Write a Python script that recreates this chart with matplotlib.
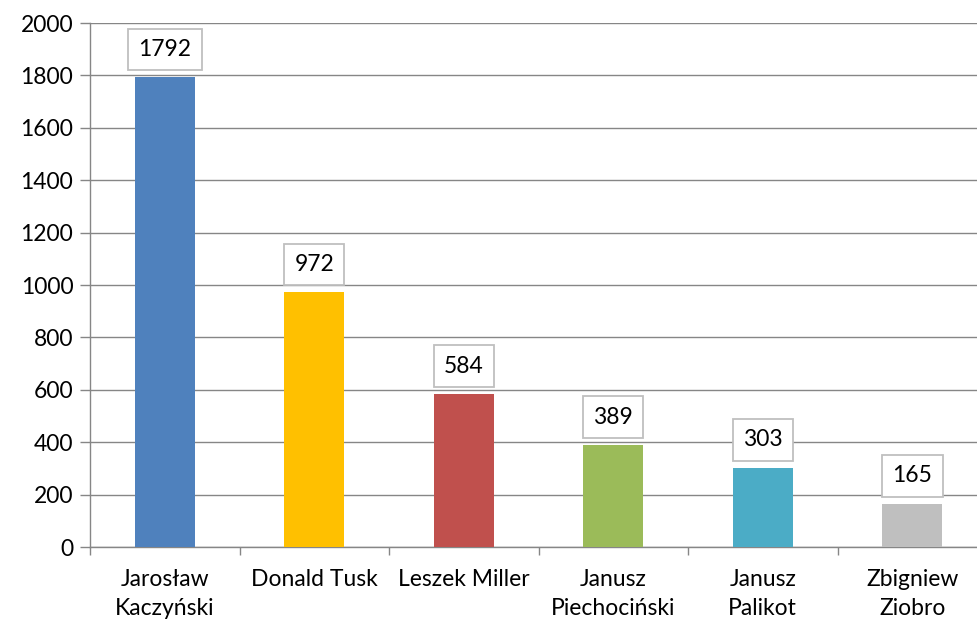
import matplotlib
matplotlib.use("Agg")
import matplotlib.pyplot as plt
import numpy as np

# Politicians and mention counts
names = ["Jarosław\nKaczyński", "Donald Tusk", "Leszek Miller",
         "Janusz\nPiechociński", "Janusz\nPalikot", "Zbigniew\nZiobro"]
counts = [1792, 972, 584, 389, 303, 165]
colors = ["#4F81BD", "#FFC000", "#C0504D", "#9BBB59", "#4BACC6", "#BFBFBF"]
yticks = list(range(0, 2001, 200))

GRID = "#868686"
FS = 16.5

plt.rcParams["font.family"] = ["Lato", "DejaVu Sans"]

fig = plt.figure(figsize=(9.77, 6.25), dpi=100)
ax = fig.add_axes([90 / 977, 1 - 547 / 625, 897 / 977, 524 / 625])

x = np.arange(len(names))
ax.bar(x, counts, width=0.4, color=colors, zorder=3)

for xi, v in zip(x, counts):
    ax.annotate(str(v), (xi, v), xytext=(0, 12.5), textcoords="offset points",
                ha="center", va="bottom", fontsize=FS, zorder=4,
                bbox=dict(boxstyle="square,pad=0.45", fc="white", ec="#BFBFBF", lw=1.3))

ax.set_xlim(-0.5, len(names) - 0.5)
ax.set_ylim(0, 2000)
ax.set_yticks(yticks)
ax.tick_params(axis="y", labelsize=FS, length=7, color=GRID, width=1, pad=5)
ax.yaxis.grid(True, color=GRID, lw=1, zorder=0)

# category labels centred, tick marks between categories
ax.set_xticks(x)
ax.set_xticklabels(names, fontsize=FS, linespacing=1.45)
ax.tick_params(axis="x", which="major", length=0, pad=16)
ax.set_xticks(np.arange(-0.5, len(names)), minor=True)
ax.tick_params(axis="x", which="minor", length=6, color=GRID, width=1)

for side in ["top", "right"]:
    ax.spines[side].set_visible(False)
for side in ["left", "bottom"]:
    ax.spines[side].set_color(GRID)
    ax.spines[side].set_linewidth(1)

fig.savefig("out.png", dpi=100)
